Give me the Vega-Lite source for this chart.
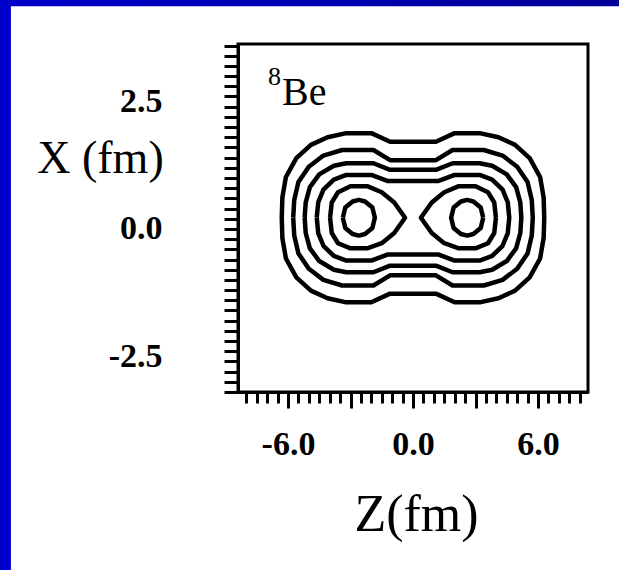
{
  "$schema": "https://vega.github.io/schema/vega-lite/v6.json",
  "width": 350,
  "height": 348,
  "autosize": {"type": "none"},
  "padding": {"left": 238, "top": 44, "right": 31, "bottom": 178},
  "background": "white",
  "config": {
    "view": {"stroke": "black", "strokeWidth": 3},
    "axis": {
      "grid": false,
      "zindex": 1,
      "domainColor": "black",
      "domainWidth": 3,
      "tickColor": "black",
      "tickWidth": 3,
      "tickCount": 200,
      "labelFont": "Liberation Serif",
      "labelFontWeight": "bold",
      "labelFontSize": 34,
      "labelColor": "black",
      "labelFlush": false,
      "labelOverlap": false,
      "labelBound": false,
      "titleFont": "Liberation Serif",
      "titleFontWeight": "normal",
      "titleColor": "black",
      "titleAngle": 0,
      "titleAlign": "center",
      "titleBaseline": "middle"
    }
  },
  "datasets": {
    "contours": [
      {"c":"c1","i":0,"z":-6.30,"x":0.22},{"c":"c1","i":1,"z":-6.27,"x":0.62},{"c":"c1","i":2,"z":-6.10,"x":1.02},{"c":"c1","i":3,"z":-5.60,"x":1.39},{"c":"c1","i":4,"z":-4.90,"x":1.65},{"c":"c1","i":5,"z":-4.10,"x":1.80},{"c":"c1","i":6,"z":-3.20,"x":1.88},{"c":"c1","i":7,"z":-2.00,"x":1.88},{"c":"c1","i":8,"z":-1.10,"x":1.71},{"c":"c1","i":9,"z":1.10,"x":1.71},{"c":"c1","i":10,"z":2.00,"x":1.88},{"c":"c1","i":11,"z":3.20,"x":1.88},{"c":"c1","i":12,"z":4.10,"x":1.80},{"c":"c1","i":13,"z":4.90,"x":1.65},{"c":"c1","i":14,"z":5.60,"x":1.39},{"c":"c1","i":15,"z":6.10,"x":1.02},{"c":"c1","i":16,"z":6.27,"x":0.62},{"c":"c1","i":17,"z":6.30,"x":0.22},{"c":"c1","i":18,"z":6.27,"x":-0.18},{"c":"c1","i":19,"z":6.10,"x":-0.58},{"c":"c1","i":20,"z":5.60,"x":-0.95},{"c":"c1","i":21,"z":4.90,"x":-1.21},{"c":"c1","i":22,"z":4.10,"x":-1.36},{"c":"c1","i":23,"z":3.20,"x":-1.44},{"c":"c1","i":24,"z":2.00,"x":-1.44},{"c":"c1","i":25,"z":1.10,"x":-1.27},{"c":"c1","i":26,"z":-1.10,"x":-1.27},{"c":"c1","i":27,"z":-2.00,"x":-1.44},{"c":"c1","i":28,"z":-3.20,"x":-1.44},{"c":"c1","i":29,"z":-4.10,"x":-1.36},{"c":"c1","i":30,"z":-4.90,"x":-1.21},{"c":"c1","i":31,"z":-5.60,"x":-0.95},{"c":"c1","i":32,"z":-6.10,"x":-0.58},{"c":"c1","i":33,"z":-6.27,"x":-0.18},{"c":"c1","i":34,"z":-6.30,"x":0.22},

      {"c":"c2","i":0,"z":-5.75,"x":0.22},{"c":"c2","i":1,"z":-5.70,"x":0.57},{"c":"c2","i":2,"z":-5.50,"x":0.92},{"c":"c2","i":3,"z":-5.00,"x":1.22},{"c":"c2","i":4,"z":-4.30,"x":1.44},{"c":"c2","i":5,"z":-3.40,"x":1.55},{"c":"c2","i":6,"z":-1.90,"x":1.55},{"c":"c2","i":7,"z":-1.10,"x":1.35},{"c":"c2","i":8,"z":1.10,"x":1.35},{"c":"c2","i":9,"z":1.90,"x":1.55},{"c":"c2","i":10,"z":3.40,"x":1.55},{"c":"c2","i":11,"z":4.30,"x":1.44},{"c":"c2","i":12,"z":5.00,"x":1.22},{"c":"c2","i":13,"z":5.50,"x":0.92},{"c":"c2","i":14,"z":5.70,"x":0.57},{"c":"c2","i":15,"z":5.75,"x":0.22},{"c":"c2","i":16,"z":5.70,"x":-0.13},{"c":"c2","i":17,"z":5.50,"x":-0.48},{"c":"c2","i":18,"z":5.00,"x":-0.78},{"c":"c2","i":19,"z":4.30,"x":-1.00},{"c":"c2","i":20,"z":3.40,"x":-1.11},{"c":"c2","i":21,"z":1.90,"x":-1.11},{"c":"c2","i":22,"z":1.10,"x":-0.91},{"c":"c2","i":23,"z":-1.10,"x":-0.91},{"c":"c2","i":24,"z":-1.90,"x":-1.11},{"c":"c2","i":25,"z":-3.40,"x":-1.11},{"c":"c2","i":26,"z":-4.30,"x":-1.00},{"c":"c2","i":27,"z":-5.00,"x":-0.78},{"c":"c2","i":28,"z":-5.50,"x":-0.48},{"c":"c2","i":29,"z":-5.70,"x":-0.13},{"c":"c2","i":30,"z":-5.75,"x":0.22},

      {"c":"c3","i":0,"z":-5.20,"x":0.22},{"c":"c3","i":1,"z":-5.15,"x":0.52},{"c":"c3","i":2,"z":-4.95,"x":0.82},{"c":"c3","i":3,"z":-4.50,"x":1.07},{"c":"c3","i":4,"z":-3.80,"x":1.24},{"c":"c3","i":5,"z":-3.20,"x":1.29},{"c":"c3","i":6,"z":-1.90,"x":1.29},{"c":"c3","i":7,"z":-1.10,"x":1.16},{"c":"c3","i":8,"z":1.10,"x":1.16},{"c":"c3","i":9,"z":1.90,"x":1.29},{"c":"c3","i":10,"z":3.20,"x":1.29},{"c":"c3","i":11,"z":3.80,"x":1.24},{"c":"c3","i":12,"z":4.50,"x":1.07},{"c":"c3","i":13,"z":4.95,"x":0.82},{"c":"c3","i":14,"z":5.15,"x":0.52},{"c":"c3","i":15,"z":5.20,"x":0.22},{"c":"c3","i":16,"z":5.15,"x":-0.08},{"c":"c3","i":17,"z":4.95,"x":-0.38},{"c":"c3","i":18,"z":4.50,"x":-0.63},{"c":"c3","i":19,"z":3.80,"x":-0.80},{"c":"c3","i":20,"z":3.20,"x":-0.85},{"c":"c3","i":21,"z":1.90,"x":-0.85},{"c":"c3","i":22,"z":1.10,"x":-0.72},{"c":"c3","i":23,"z":-1.10,"x":-0.72},{"c":"c3","i":24,"z":-1.90,"x":-0.85},{"c":"c3","i":25,"z":-3.20,"x":-0.85},{"c":"c3","i":26,"z":-3.80,"x":-0.80},{"c":"c3","i":27,"z":-4.50,"x":-0.63},{"c":"c3","i":28,"z":-4.95,"x":-0.38},{"c":"c3","i":29,"z":-5.15,"x":-0.08},{"c":"c3","i":30,"z":-5.20,"x":0.22},

      {"c":"c4","i":0,"z":-4.62,"x":0.22},{"c":"c4","i":1,"z":-4.55,"x":0.52},{"c":"c4","i":2,"z":-4.30,"x":0.77},{"c":"c4","i":3,"z":-3.80,"x":0.97},{"c":"c4","i":4,"z":-3.20,"x":1.06},{"c":"c4","i":5,"z":-2.00,"x":1.06},{"c":"c4","i":6,"z":-1.20,"x":0.94},{"c":"c4","i":7,"z":1.20,"x":0.94},{"c":"c4","i":8,"z":2.00,"x":1.06},{"c":"c4","i":9,"z":3.20,"x":1.06},{"c":"c4","i":10,"z":3.80,"x":0.97},{"c":"c4","i":11,"z":4.30,"x":0.77},{"c":"c4","i":12,"z":4.55,"x":0.52},{"c":"c4","i":13,"z":4.62,"x":0.22},{"c":"c4","i":14,"z":4.55,"x":-0.08},{"c":"c4","i":15,"z":4.30,"x":-0.33},{"c":"c4","i":16,"z":3.80,"x":-0.53},{"c":"c4","i":17,"z":3.20,"x":-0.62},{"c":"c4","i":18,"z":2.00,"x":-0.62},{"c":"c4","i":19,"z":1.20,"x":-0.50},{"c":"c4","i":20,"z":-1.20,"x":-0.50},{"c":"c4","i":21,"z":-2.00,"x":-0.62},{"c":"c4","i":22,"z":-3.20,"x":-0.62},{"c":"c4","i":23,"z":-3.80,"x":-0.53},{"c":"c4","i":24,"z":-4.30,"x":-0.33},{"c":"c4","i":25,"z":-4.55,"x":-0.08},{"c":"c4","i":26,"z":-4.62,"x":0.22},

      {"c":"c5a","i":0,"z":-3.98,"x":0.22},{"c":"c5a","i":1,"z":-3.90,"x":0.52},{"c":"c5a","i":2,"z":-3.60,"x":0.72},{"c":"c5a","i":3,"z":-3.00,"x":0.84},{"c":"c5a","i":4,"z":-2.20,"x":0.84},{"c":"c5a","i":5,"z":-1.50,"x":0.72},{"c":"c5a","i":6,"z":-0.90,"x":0.52},{"c":"c5a","i":7,"z":-0.38,"x":0.22},{"c":"c5a","i":8,"z":-0.90,"x":-0.08},{"c":"c5a","i":9,"z":-1.50,"x":-0.28},{"c":"c5a","i":10,"z":-2.20,"x":-0.38},{"c":"c5a","i":11,"z":-3.00,"x":-0.38},{"c":"c5a","i":12,"z":-3.60,"x":-0.28},{"c":"c5a","i":13,"z":-3.90,"x":-0.08},{"c":"c5a","i":14,"z":-3.98,"x":0.22},

      {"c":"c5b","i":0,"z":3.98,"x":0.22},{"c":"c5b","i":1,"z":3.90,"x":0.52},{"c":"c5b","i":2,"z":3.60,"x":0.72},{"c":"c5b","i":3,"z":3.00,"x":0.84},{"c":"c5b","i":4,"z":2.20,"x":0.84},{"c":"c5b","i":5,"z":1.50,"x":0.72},{"c":"c5b","i":6,"z":0.90,"x":0.52},{"c":"c5b","i":7,"z":0.38,"x":0.22},{"c":"c5b","i":8,"z":0.90,"x":-0.08},{"c":"c5b","i":9,"z":1.50,"x":-0.28},{"c":"c5b","i":10,"z":2.20,"x":-0.38},{"c":"c5b","i":11,"z":3.00,"x":-0.38},{"c":"c5b","i":12,"z":3.60,"x":-0.28},{"c":"c5b","i":13,"z":3.90,"x":-0.08},{"c":"c5b","i":14,"z":3.98,"x":0.22},

      {"c":"c6a","i":0,"z":-3.37,"x":0.22},{"c":"c6a","i":1,"z":-3.25,"x":0.42},{"c":"c6a","i":2,"z":-2.90,"x":0.54},{"c":"c6a","i":3,"z":-2.60,"x":0.57},{"c":"c6a","i":4,"z":-2.30,"x":0.54},{"c":"c6a","i":5,"z":-1.95,"x":0.42},{"c":"c6a","i":6,"z":-1.83,"x":0.22},{"c":"c6a","i":7,"z":-1.95,"x":0.02},{"c":"c6a","i":8,"z":-2.30,"x":-0.10},{"c":"c6a","i":9,"z":-2.60,"x":-0.13},{"c":"c6a","i":10,"z":-2.90,"x":-0.10},{"c":"c6a","i":11,"z":-3.25,"x":0.02},{"c":"c6a","i":12,"z":-3.37,"x":0.22},

      {"c":"c6b","i":0,"z":3.37,"x":0.22},{"c":"c6b","i":1,"z":3.25,"x":0.42},{"c":"c6b","i":2,"z":2.90,"x":0.54},{"c":"c6b","i":3,"z":2.60,"x":0.57},{"c":"c6b","i":4,"z":2.30,"x":0.54},{"c":"c6b","i":5,"z":1.95,"x":0.42},{"c":"c6b","i":6,"z":1.83,"x":0.22},{"c":"c6b","i":7,"z":1.95,"x":0.02},{"c":"c6b","i":8,"z":2.30,"x":-0.10},{"c":"c6b","i":9,"z":2.60,"x":-0.13},{"c":"c6b","i":10,"z":2.90,"x":-0.10},{"c":"c6b","i":11,"z":3.25,"x":0.02},{"c":"c6b","i":12,"z":3.37,"x":0.22}
    ],
    "single": [{}]
  },
  "layer": [
    {
      "data": {"name": "contours"},
      "mark": {"type": "line", "stroke": "black", "strokeWidth": 4.5, "strokeJoin": "round"},
      "encoding": {
        "x": {
          "field": "z",
          "type": "quantitative",
          "scale": {"domain": [-8.4, 8.4], "nice": false, "zero": false},
          "axis": {
            "title": "Z(fm)",
            "titleFontSize": 52,
            "values": [-8,-7.5,-7,-6.5,-6,-5.5,-5,-4.5,-4,-3.5,-3,-2.5,-2,-1.5,-1,-0.5,0,0.5,1,1.5,2,2.5,3,3.5,4,4.5,5,5.5,6,6.5,7,7.5,8],
            "labelExpr": "abs(datum.value) % 6 === 0 ? (datum.value < 0 ? '-' : '') + format(abs(datum.value), '.1f') : ''",
            "tickSize": {"condition": {"test": "abs(datum.value) % 3 === 0", "value": 16}, "value": 11},
            "labelPadding": 46,
            "labelBaseline": "alphabetic",
            "titleX": 178,
            "titleY": 122
          }
        },
        "y": {
          "field": "x",
          "type": "quantitative",
          "scale": {"domain": [-3.2, 3.63], "nice": false, "zero": false},
          "axis": {
            "title": "X (fm)",
            "titleFontSize": 46,
            "values": [-3.2,-3,-2.8,-2.6,-2.5,-2.4,-2.2,-2,-1.8,-1.6,-1.4,-1.2,-1,-0.8,-0.6,-0.4,-0.2,0,0.2,0.4,0.6,0.8,1,1.2,1.4,1.6,1.8,2,2.2,2.4,2.5,2.6,2.8,3,3.2,3.4,3.6],
            "labelExpr": "abs(datum.value) === 2.5 || datum.value === 0 ? (datum.value < 0 ? '-' : '') + format(abs(datum.value), '.1f') : ''",
            "tickSize": 14,
            "tickOpacity": {"condition": {"test": "abs(datum.value) === 2.5", "value": 0}, "value": 1},
            "labelPadding": 62,
            "labelBaseline": "middle",
            "titleX": -138,
            "titleY": 114
          }
        },
        "detail": {"field": "c"},
        "order": {"field": "i", "type": "quantitative"}
      }
    },
    {
      "data": {"name": "single"},
      "mark": {"type": "rect", "color": "#0000CC"},
      "encoding": {
        "x": {"datum": -20},
        "x2": {"datum": -19.3},
        "y": {"datum": -8},
        "y2": {"datum": 5}
      }
    },
    {
      "data": {"name": "single"},
      "mark": {"type": "rect", "color": {"gradient": "linear", "x1": 0, "x2": 1, "y1": 0, "y2": 0, "stops": [{"offset": 0, "color": "#0000CC"}, {"offset": 1, "color": "#000096"}]}},
      "encoding": {
        "x": {"datum": -20},
        "x2": {"datum": 11},
        "y": {"datum": 4.37},
        "y2": {"datum": 5}
      }
    },
    {
      "data": {"name": "single"},
      "mark": {"type": "text", "text": "Be", "font": "Liberation Serif", "fontSize": 40, "align": "left", "baseline": "alphabetic", "color": "black"},
      "encoding": {
        "x": {"datum": -6.29},
        "y": {"datum": 2.43}
      }
    },
    {
      "data": {"name": "single"},
      "mark": {"type": "text", "text": "8", "font": "Liberation Serif", "fontSize": 26, "align": "left", "baseline": "alphabetic", "color": "black"},
      "encoding": {
        "x": {"datum": -6.96},
        "y": {"datum": 2.82}
      }
    }
  ]
}
